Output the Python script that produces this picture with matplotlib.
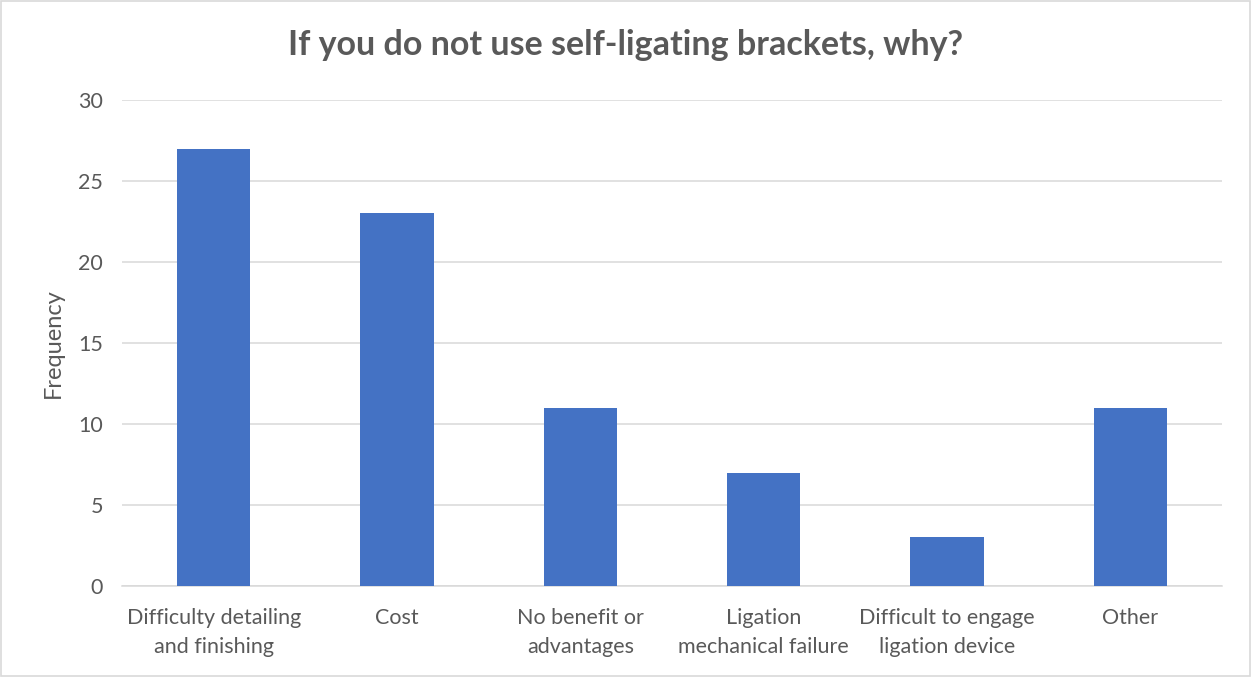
import matplotlib.pyplot as plt
from matplotlib.patches import Rectangle

# Survey answers and their counts
categories = ["Difficulty detailing\nand finishing", "Cost", "No benefit or\nadvantages",
              "Ligation\nmechanical failure", "Difficult to engage\nligation device", "Other"]
frequency = [27, 23, 11, 7, 3, 11]
yticks = [0, 5, 10, 15, 20, 25, 30]

plt.rcParams['font.family'] = ['Lato', 'DejaVu Sans']
text_color = '#595959'

fig = plt.figure(figsize=(12.51, 6.77), dpi=100)
ax = fig.add_axes([0.0975, 0.1344, 0.8793, 0.7179])

x = range(len(categories))
ax.bar(x, frequency, width=0.4, color='#4472C4', zorder=3)

ax.set_xlim(-0.5, len(categories) - 0.5)
ax.set_ylim(0, 30)
ax.set_yticks(yticks)
ax.set_xticks(list(x))
ax.set_xticklabels(categories, fontsize=15.5, color=text_color, linespacing=1.55)
ax.tick_params(axis='y', labelsize=15.5, labelcolor=text_color, length=0, pad=13.5)
ax.tick_params(axis='x', length=0, pad=16)

ax.grid(axis='y', color='#d9d9d9', linewidth=1.1, zorder=0)
for side in ['top', 'right', 'left']:
    ax.spines[side].set_visible(False)
ax.spines['bottom'].set_color('#d9d9d9')
ax.spines['bottom'].set_linewidth(1.1)

fig.text(53 / 1251, 1 - 343 / 677, "Frequency", rotation=90, ha='center', va='center',
         fontsize=17, color=text_color)
fig.text(0.5, 0.933, "If you do not use self-ligating brackets, why?",
         ha='center', va='center', fontsize=24.5, fontweight='bold', color=text_color)

# thin frame round the whole chart
fig.patches.append(Rectangle((0.001, 0.002), 0.998, 0.996, transform=fig.transFigure,
                             fill=False, edgecolor='#d9d9d9', linewidth=1.2))

fig.savefig("out.png", dpi=100)
